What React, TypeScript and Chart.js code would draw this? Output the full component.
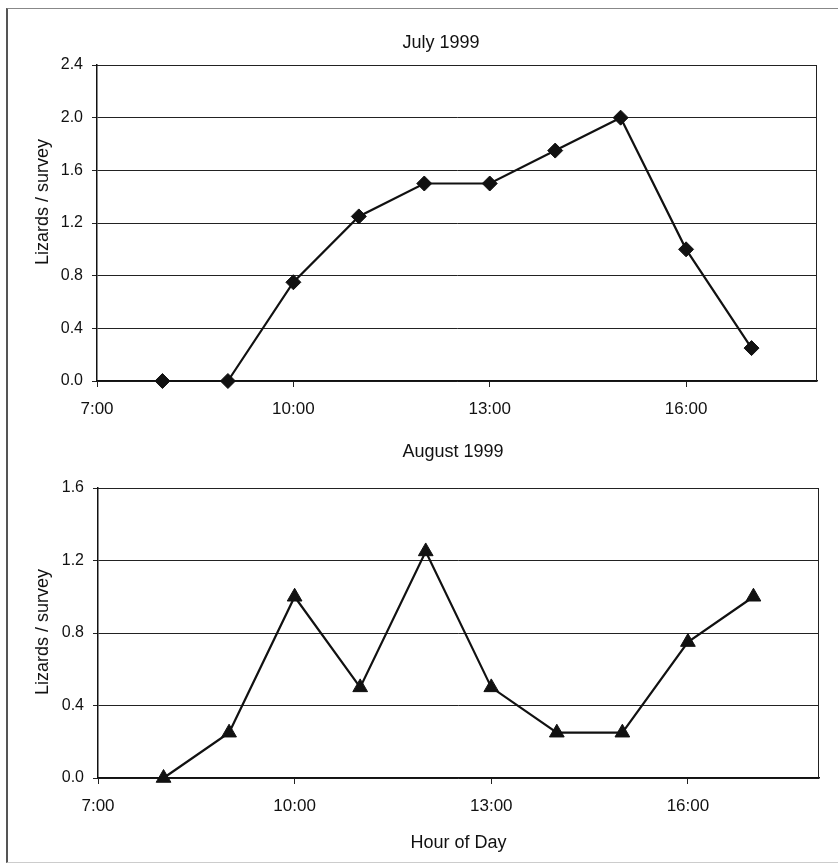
import React, { useEffect, useRef } from 'react';
import { Chart, registerables } from 'chart.js';

Chart.register(...registerables);

// ---- data ----
const HOURS = [8, 9, 10, 11, 12, 13, 14, 15, 16, 17];
const JULY = [0, 0, 0.75, 1.25, 1.5, 1.5, 1.75, 2.0, 1.0, 0.25];
const AUGUST = [0, 0.25, 1.0, 0.5, 1.25, 0.5, 0.25, 0.25, 0.75, 1.0];

const X_MIN = 7;
const X_MAX = 18;
const X_TICKS = [7, 10, 13, 16];
const X_TICK_LABELS = ['7:00', '10:00', '13:00', '16:00'];

const JULY_Y_TICKS = [0, 0.4, 0.8, 1.2, 1.6, 2.0, 2.4];
const JULY_Y_LABELS = ['0.0', '0.4', '0.8', '1.2', '1.6', '2.0', '2.4'];
const AUG_Y_TICKS = [0, 0.4, 0.8, 1.2, 1.6];
const AUG_Y_LABELS = ['0.0', '0.4', '0.8', '1.2', '1.6'];

const JULY_TITLE = 'July 1999';
const AUG_TITLE = 'August 1999';
const Y_TITLE = 'Lizards / survey';
const X_TITLE = 'Hour of Day';

const FONT = '"Liberation Sans", Arial, Helvetica, sans-serif';
const INK = '#111';
const GRID = '#222';

const decorPlugin = {
  id: 'panelDecor',
  beforeDatasetsDraw(chart: any) {
    const { ctx, chartArea } = chart;
    const { left, top, right, bottom } = chartArea;
    ctx.save();
    ctx.strokeStyle = GRID;
    ctx.lineWidth = 1;
    ctx.beginPath();
    ctx.moveTo(Math.round(left), Math.round(top) + 0.5);
    ctx.lineTo(Math.round(right) - 0.5, Math.round(top) + 0.5);
    ctx.lineTo(Math.round(right) - 0.5, Math.round(bottom));
    ctx.stroke();
    ctx.restore();
  },
  afterDraw(chart: any, _args: any, opts: any) {
    const { ctx } = chart;
    ctx.save();
    ctx.fillStyle = INK;
    ctx.textAlign = 'center';
    ctx.textBaseline = 'middle';
    ctx.font = `18px ${FONT}`;
    ctx.fillText(opts.title, opts.titleX, opts.titleY);
    ctx.translate(opts.yTitleX, opts.yTitleY);
    ctx.rotate(-Math.PI / 2);
    ctx.fillText(opts.yTitle, 0, 0);
    ctx.restore();
  },
};

type Panel = {
  values: number[];
  pointStyle: string;
  pointRadius: number;
  yTicks: number[];
  yLabels: string[];
  title: string;
  titleX: number;
  titleY: number;
  yTitleX: number;
  yTitleY: number;
  canvasH: number;
  plotLeft: number;
  plotTop: number;
  plotRight: number;
  plotBottom: number;
  xTitle?: string;
};

function makeConfig(p: Panel, width: number): any {
  return {
    type: 'line',
    data: {
      datasets: [
        {
          data: HOURS.map((h, i) => ({ x: h, y: p.values[i] })),
          borderColor: INK,
          borderWidth: 2.2,
          backgroundColor: INK,
          pointBackgroundColor: INK,
          pointBorderColor: INK,
          pointBorderWidth: 1,
          pointStyle: p.pointStyle,
          pointRadius: p.pointRadius,
          tension: 0,
          fill: false,
          clip: false,
        },
      ],
    },
    options: {
      responsive: false,
      animation: false,
      devicePixelRatio: 1,
      layout: {
        padding: { left: 0, top: p.plotTop, right: width - p.plotRight, bottom: 0 },
      },
      plugins: {
        legend: { display: false },
        tooltip: { enabled: false },
        title: { display: false },
        panelDecor: {
          title: p.title,
          titleX: p.titleX,
          titleY: p.titleY,
          yTitle: Y_TITLE,
          yTitleX: p.yTitleX,
          yTitleY: p.yTitleY,
        },
      },
      scales: {
        x: {
          type: 'linear',
          min: X_MIN,
          max: X_MAX,
          afterBuildTicks: (scale: any) => {
            scale.ticks = X_TICKS.map((v) => ({ value: v }));
          },
          afterFit: (scale: any) => {
            scale.height = p.canvasH - p.plotBottom;
          },
          ticks: {
            color: INK,
            font: { family: FONT, size: 17 },
            padding: 12,
            maxRotation: 0,
            autoSkip: false,
            callback: (v: number) => {
              const i = X_TICKS.indexOf(v);
              return i >= 0 ? X_TICK_LABELS[i] : '';
            },
          },
          grid: {
            display: true,
            drawOnChartArea: false,
            drawTicks: true,
            tickLength: 6,
            color: GRID,
            lineWidth: 1,
          },
          border: { display: true, color: INK, width: 1.5 },
          title: p.xTitle
            ? {
                display: true,
                text: p.xTitle,
                color: INK,
                font: { family: FONT, size: 18 },
                padding: { top: 0, bottom: 13 },
              }
            : { display: false },
        },
        y: {
          type: 'linear',
          min: p.yTicks[0],
          max: p.yTicks[p.yTicks.length - 1],
          afterBuildTicks: (scale: any) => {
            scale.ticks = p.yTicks.map((v) => ({ value: v }));
          },
          afterFit: (scale: any) => {
            scale.width = p.plotLeft;
          },
          ticks: {
            color: INK,
            font: { family: FONT, size: 16 },
            padding: 9,
            autoSkip: false,
            callback: (v: number) => {
              const i = p.yTicks.findIndex((t) => Math.abs(t - v) < 1e-6);
              return i >= 0 ? p.yLabels[i] : '';
            },
          },
          grid: {
            display: true,
            drawOnChartArea: true,
            drawTicks: true,
            tickLength: 5,
            color: GRID,
            lineWidth: 1,
          },
          border: { display: true, color: INK, width: 1.5 },
        },
      },
    },
    plugins: [decorPlugin],
  };
}

const W = 838;

const JULY_PANEL: Panel = {
  values: JULY,
  pointStyle: 'rectRot',
  pointRadius: 7.5,
  yTicks: JULY_Y_TICKS,
  yLabels: JULY_Y_LABELS,
  title: JULY_TITLE,
  titleX: 441,
  titleY: 43,
  yTitleX: 43,
  yTitleY: 202,
  canvasH: 430,
  plotLeft: 97,
  plotTop: 65,
  plotRight: 817,
  plotBottom: 381,
};

const AUG_PANEL: Panel = {
  values: AUGUST,
  pointStyle: 'triangle',
  pointRadius: 8.5,
  yTicks: AUG_Y_TICKS,
  yLabels: AUG_Y_LABELS,
  title: AUG_TITLE,
  titleX: 453,
  titleY: 22,
  yTitleX: 43,
  yTitleY: 202,
  canvasH: 437,
  plotLeft: 98,
  plotTop: 58,
  plotRight: 819,
  plotBottom: 348,
  xTitle: X_TITLE,
};

function PanelChart({ panel, top }: { panel: Panel; top: number }) {
  const ref = useRef<HTMLCanvasElement | null>(null);
  useEffect(() => {
    if (!ref.current) return;
    const chart = new Chart(ref.current, makeConfig(panel, W));
    return () => chart.destroy();
  }, [panel]);
  return (
    <canvas
      ref={ref}
      width={W}
      height={panel.canvasH}
      style={{ position: 'absolute', left: 0, top, width: W, height: panel.canvasH, display: 'block' }}
    />
  );
}

export default function App() {
  return (
    <div
      style={{
        position: 'absolute',
        left: 0,
        top: 0,
        width: W,
        height: 867,
        background: '#fff',
        overflow: 'hidden',
      }}
    >
      <div
        style={{
          position: 'absolute',
          left: 6,
          top: 8,
          width: 830,
          height: 853,
          borderLeft: '2px solid #555',
          borderTop: '1px solid #888',
          borderBottom: '1px solid #ccc',
          borderRight: '1px solid #e4e4e4',
        }}
      />
      <PanelChart panel={JULY_PANEL} top={0} />
      <PanelChart panel={AUG_PANEL} top={430} />
    </div>
  );
}
